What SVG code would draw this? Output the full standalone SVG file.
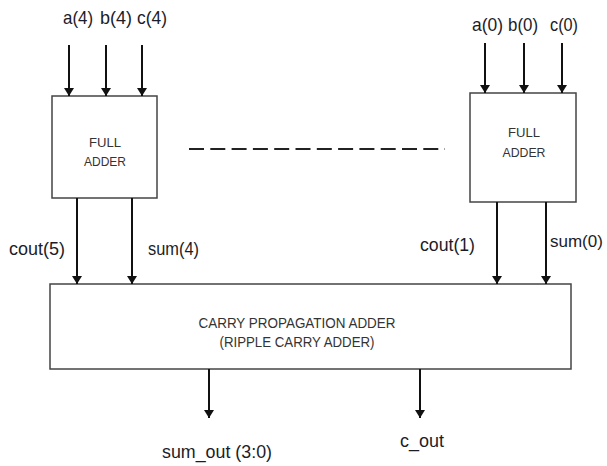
<svg xmlns="http://www.w3.org/2000/svg" width="607" height="466" viewBox="0 0 607 466">
<style>
.box{fill:#fff;stroke:#444;stroke-width:1.5}
.wire{stroke:#111;stroke-width:2;fill:none;marker-end:url(#ah)}
.lbl{font-family:"Liberation Sans",Arial,sans-serif;font-size:18.5px;fill:#1c1c28}
.in{font-family:"Liberation Sans",Arial,sans-serif;font-size:13px;fill:#333;text-anchor:middle}
.cpa{font-family:"Liberation Sans",Arial,sans-serif;font-size:15px;fill:#333;text-anchor:middle}
</style>
<defs>
<marker id="ah" viewBox="0 0 8 12" refX="8" refY="6" markerWidth="8" markerHeight="12" markerUnits="userSpaceOnUse" orient="auto">
<path d="M0,1 L8,6 L0,11 Z" fill="#111"/>
</marker>
</defs>
<rect width="607" height="466" fill="#fff"/>
<g id="fa4">
<rect class="box" x="52" y="96" width="105" height="102"/>
<text class="in" x="105" y="147" textLength="32" lengthAdjust="spacingAndGlyphs">FULL</text>
<text class="in" x="105" y="166" textLength="42" lengthAdjust="spacingAndGlyphs">ADDER</text>
</g>
<g id="fa0">
<rect class="box" x="470" y="93" width="106" height="109"/>
<text class="in" x="524" y="137" textLength="32" lengthAdjust="spacingAndGlyphs">FULL</text>
<text class="in" x="524" y="157" textLength="43" lengthAdjust="spacingAndGlyphs">ADDER</text>
</g>
<g id="cpa">
<rect class="box" x="50" y="284" width="521" height="85"/>
<text class="cpa" x="297" y="328" textLength="197" lengthAdjust="spacingAndGlyphs">CARRY PROPAGATION ADDER</text>
<text class="cpa" x="297" y="347" textLength="155" lengthAdjust="spacingAndGlyphs">(RIPPLE CARRY ADDER)</text>
</g>
<g id="labels">
<text class="lbl" x="63" y="24" textLength="30" lengthAdjust="spacingAndGlyphs">a(4)</text>
<text class="lbl" x="100" y="24" textLength="32" lengthAdjust="spacingAndGlyphs">b(4)</text>
<text class="lbl" x="137" y="24" textLength="30" lengthAdjust="spacingAndGlyphs">c(4)</text>
<text class="lbl" x="472" y="31" textLength="31" lengthAdjust="spacingAndGlyphs">a(0)</text>
<text class="lbl" x="508" y="31" textLength="30" lengthAdjust="spacingAndGlyphs">b(0)</text>
<text class="lbl" x="550" y="31" textLength="28" lengthAdjust="spacingAndGlyphs">c(0)</text>
<text class="lbl" x="9" y="255" textLength="56" lengthAdjust="spacingAndGlyphs">cout(5)</text>
<text class="lbl" x="148" y="255" textLength="51" lengthAdjust="spacingAndGlyphs">sum(4)</text>
<text class="lbl" x="420" y="251" textLength="55" lengthAdjust="spacingAndGlyphs">cout(1)</text>
<text class="lbl" x="550" y="247" style="font-size:17px">sum(0)</text>
<text class="lbl" x="162" y="458" textLength="110" lengthAdjust="spacingAndGlyphs">sum_out (3:0)</text>
<text class="lbl" x="400" y="447" textLength="44" lengthAdjust="spacingAndGlyphs">c_out</text>
</g>
<g id="connectors">
<line class="wire" x1="69" y1="45" x2="69" y2="96"/>
<line class="wire" x1="106" y1="45" x2="106" y2="96"/>
<line class="wire" x1="142" y1="45" x2="142" y2="96"/>
<line class="wire" x1="485" y1="43" x2="485" y2="93"/>
<line class="wire" x1="524" y1="43" x2="524" y2="93"/>
<line class="wire" x1="562" y1="43" x2="562" y2="93"/>
<line class="wire" x1="77" y1="198" x2="77" y2="284"/>
<line class="wire" x1="132" y1="198" x2="132" y2="284"/>
<line class="wire" x1="497" y1="202" x2="497" y2="284"/>
<line class="wire" x1="546" y1="202" x2="546" y2="284"/>
<line class="wire" x1="209" y1="369" x2="209" y2="418"/>
<line class="wire" x1="420" y1="369" x2="420" y2="418"/>
<line x1="189" y1="149" x2="445" y2="149" stroke="#222" stroke-width="2" stroke-dasharray="15 6.3"/>
</g>
</svg>
